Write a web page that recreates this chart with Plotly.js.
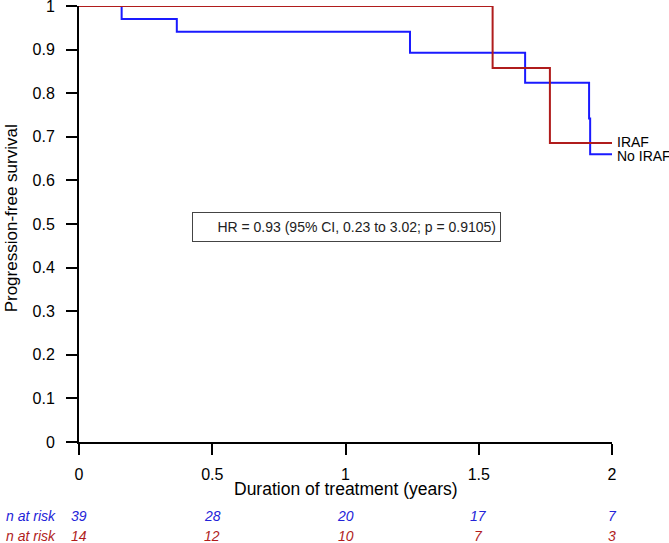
<!DOCTYPE html>
<html>
<head>
<meta charset="utf-8">
<script src="https://cdn.plot.ly/plotly-3.0.1.min.js"></script>
<style>html,body{margin:0;padding:0;background:#fff;}#chart{width:669px;height:543px;}</style>
</head>
<body>
<div id="chart"></div>
<script>
// Kaplan-Meier step data (time in years, progression-free survival)
const noIrafTime = [0, 0.160, 0.367, 1.242, 1.674, 1.914, 1.918, 2.0];
const noIrafSurv = [1, 0.970, 0.941, 0.893, 0.824, 0.742, 0.660, 0.660];
const irafTime = [0, 1.552, 1.767, 2.0];
const irafSurv = [1, 0.858, 0.686, 0.686];
const seriesNames = ["No IRAF", "IRAF"];
// Numbers at risk
const riskTimes = [0, 0.5, 1, 1.5, 2];
const riskNoIraf = [39, 28, 20, 17, 7];
const riskIraf = [14, 12, 10, 7, 3];
const riskLabel = "n at risk";
const xTicks = [0, 0.5, 1, 1.5, 2];
const yTicks = [0, 0.1, 0.2, 0.3, 0.4, 0.5, 0.6, 0.7, 0.8, 0.9, 1];
const xTitle = "Duration of treatment (years)";
const yTitle = "Progression-free survival";
const hrText = "HR = 0.93 (95% CI, 0.23 to 3.02; p = 0.9105)";

const blue = "#1a1aff";
const red = "#b01c1c";
const font = "Liberation Sans, Arial, sans-serif";

const traces = [
  {x: noIrafTime, y: noIrafSurv, mode: "lines", line: {shape: "hv", color: blue, width: 2}, name: seriesNames[0], cliponaxis: false},
  {x: irafTime, y: irafSurv, mode: "lines", line: {shape: "hv", color: red, width: 2}, name: seriesNames[1], cliponaxis: false}
];

const annotations = [];
annotations.push({x: irafTime[irafTime.length-1], y: irafSurv[irafSurv.length-1], xref: "x", yref: "y", text: seriesNames[1], showarrow: false, xanchor: "left", yanchor: "middle", xshift: 3, yshift: 1, font: {family: font, size: 14, color: "#000"}});
annotations.push({x: noIrafTime[noIrafTime.length-1], y: noIrafSurv[noIrafSurv.length-1], xref: "x", yref: "y", text: seriesNames[0], showarrow: false, xanchor: "left", yanchor: "middle", xshift: 3, yshift: -2, font: {family: font, size: 14, color: "#000"}});
annotations.push({x: 1.004, y: 0.493, xref: "x", yref: "y", text: hrText, showarrow: false, xanchor: "center", yanchor: "middle", width: 299, height: 20, align: "right", borderpad: 4, bordercolor: "#444", borderwidth: 1, font: {family: font, size: 14, color: "#222"}});
// axis titles
annotations.push({x: 1, y: 0, xref: "x", yref: "y", yshift: -47, text: xTitle, showarrow: false, xanchor: "center", yanchor: "middle", font: {family: font, size: 17.5, color: "#000"}});
annotations.push({x: 0, y: 0.513, xref: "paper", yref: "paper", xshift: -68, text: yTitle, textangle: -90, showarrow: false, xanchor: "center", yanchor: "middle", font: {family: font, size: 17, color: "#000"}});

riskTimes.forEach((t, i) => {
  annotations.push({x: t, y: 0, xref: "x", yref: "y", yshift: -74, text: "<i>" + riskNoIraf[i] + "</i>", showarrow: false, xanchor: "center", yanchor: "middle", font: {family: font, size: 14, color: "#2323d8"}});
  annotations.push({x: t, y: 0, xref: "x", yref: "y", yshift: -94, text: "<i>" + riskIraf[i] + "</i>", showarrow: false, xanchor: "center", yanchor: "middle", font: {family: font, size: 14, color: "#b01c1c"}});
});
annotations.push({x: 0, y: 0, xref: "paper", yref: "y", xshift: -21, yshift: -74, text: "<i>" + riskLabel + "</i>", showarrow: false, xanchor: "right", yanchor: "middle", font: {family: font, size: 14, color: "#2323d8"}});
annotations.push({x: 0, y: 0, xref: "paper", yref: "y", xshift: -21, yshift: -94, text: "<i>" + riskLabel + "</i>", showarrow: false, xanchor: "right", yanchor: "middle", font: {family: font, size: 14, color: "#b01c1c"}});

const layout = {
  width: 669, height: 543,
  margin: {l: 79, r: 57, t: 6, b: 101, pad: 0},
  paper_bgcolor: "#fff", plot_bgcolor: "#fff",
  showlegend: false,
  font: {family: font, size: 16, color: "#000"},
  xaxis: {
    range: [0, 2], tickvals: xTicks, ticktext: xTicks.map(String),
    showgrid: false, zeroline: false, showline: true, linecolor: "#000", linewidth: 2,
    ticks: "outside", ticklen: 11, tickwidth: 2, tickcolor: "#000",
    ticklabelstandoff: 6, ticklabeloverflow: "allow",
    tickfont: {family: font, size: 16, color: "#000"}
  },
  yaxis: {
    range: [0, 1], tickvals: yTicks, ticktext: yTicks.map(v => v === 0 || v === 1 ? String(v) : v.toFixed(1)),
    showgrid: false, zeroline: false, showline: true, linecolor: "#000", linewidth: 2,
    ticks: "outside", ticklen: 11, tickwidth: 2, tickcolor: "#000",
    ticklabelstandoff: 8, ticklabeloverflow: "allow",
    tickfont: {family: font, size: 16, color: "#000"}
  },
  annotations: annotations
};

Plotly.newPlot("chart", traces, layout, {displayModeBar: false, staticPlot: true});
</script>
</body>
</html>
